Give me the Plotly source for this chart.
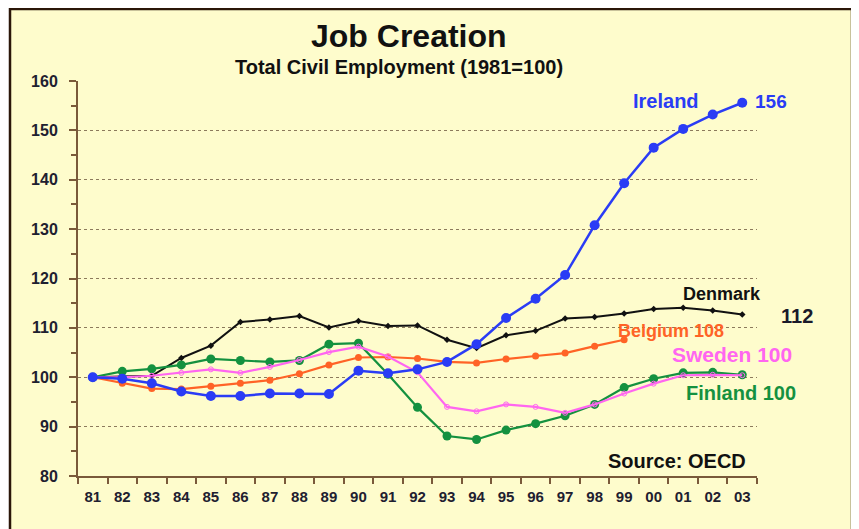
import plotly.graph_objects as go

years = ["81", "82", "83", "84", "85", "86", "87", "88", "89", "90", "91", "92",
         "93", "94", "95", "96", "97", "98", "99", "00", "01", "02", "03"]

ireland = [100, 99.7, 98.8, 97.1, 96.2, 96.2, 96.7, 96.7, 96.6, 101.3, 100.8, 101.6,
           103.1, 106.7, 112.0, 115.9, 120.7, 130.8, 139.3, 146.5, 150.3, 153.2, 155.6]
denmark = [100, 100.2, 100.3, 103.9, 106.4, 111.2, 111.7, 112.4, 110.1, 111.4, 110.4, 110.5,
           107.6, 105.9, 108.5, 109.4, 111.9, 112.2, 112.9, 113.8, 114.1, 113.5, 112.7]
belgium = [100, 98.8, 97.7, 97.6, 98.2, 98.8, 99.4, 100.7, 102.5, 104.0, 104.1, 103.8,
           103.1, 102.9, 103.7, 104.3, 104.9, 106.3, 107.6]
sweden = [100, 100.0, 100.3, 100.9, 101.6, 100.9, 102.1, 103.5, 105.1, 106.2, 104.2, 101.0,
          94.0, 93.1, 94.5, 94.0, 92.8, 94.5, 96.7, 98.7, 100.4, 100.5, 100.4]
finland = [100, 101.2, 101.7, 102.5, 103.7, 103.4, 103.1, 103.4, 106.7, 106.9, 100.6, 93.9,
           88.1, 87.4, 89.3, 90.6, 92.2, 94.5, 97.9, 99.7, 100.9, 101.0, 100.5]

BLUE = "#2a3cf5"
BLACK = "#111111"
ORANGE = "#ff6326"
MAGENTA = "#ff66f0"
GREEN = "#14913f"
BG = "#fefccc"
FONT = "Liberation Sans, Arial"

# plot area in page pixels (page has an 8px body margin)
PL, PR, PT, PB = 78, 757, 81, 476


def px(xp):
    return (xp - PL) / (PR - PL)


def py(yp):
    return (PB - yp) / (PB - PT)


fig = go.Figure()
fig.add_trace(go.Scatter(x=years, y=denmark, mode="lines+markers",
                         line=dict(color=BLACK, width=2),
                         marker=dict(symbol="diamond", size=5, color=BLACK)))
fig.add_trace(go.Scatter(x=years[:len(belgium)], y=belgium, mode="lines+markers",
                         line=dict(color=ORANGE, width=2.2),
                         marker=dict(symbol="circle", size=7, color=ORANGE)))
fig.add_trace(go.Scatter(x=years, y=finland, mode="lines+markers",
                         line=dict(color=GREEN, width=2.2),
                         marker=dict(symbol="circle", size=9, color=GREEN)))
fig.add_trace(go.Scatter(x=years, y=sweden, mode="lines+markers",
                         line=dict(color=MAGENTA, width=2.2),
                         marker=dict(symbol="circle-open", size=5, color=MAGENTA)))
fig.add_trace(go.Scatter(x=years, y=ireland, mode="lines+markers",
                         line=dict(color=BLUE, width=2.5),
                         marker=dict(symbol="circle", size=10, color=BLUE)))

labels = [
    ("Ireland", 666, 101, BLUE, 20, True),
    ("156", 771, 101, BLUE, 19, True),
    ("Denmark", 722, 294, BLACK, 18, True),
    ("112", 797, 316, "#1a1a2a", 20, True),
    ("Belgium 108", 671, 331, ORANGE, 18, True),
    ("Sweden 100", 732, 354, MAGENTA, 21, True),
    ("Finland 100", 741, 393, GREEN, 20, True),
    ("Source: OECD", 677, 461, BLACK, 20, True),
    ("Job Creation", 409, 36, BLACK, 32, True),
    ("Total Civil Employment (1981=100)", 399, 67, BLACK, 20, True),
]
for text, x, y, col, size, bold in labels:
    fig.add_annotation(x=px(x), y=py(y), xref="paper", yref="paper",
                       text=(f"<b>{text}</b>" if bold else text),
                       showarrow=False, xanchor="center", yanchor="middle",
                       font=dict(family=FONT, size=size, color=col))

# frame background
fig.add_shape(type="rect", xref="paper", yref="paper",
              x0=px(10), x1=px(852), y0=py(545), y1=py(9),
              fillcolor=BG, line=dict(color="#2b1608", width=2.5), layer="below")

AX = "#7a5a3a"
fig.update_layout(
    width=851, height=521,
    margin=dict(l=PL - 8, r=851 - (PR - 8), t=PT - 8, b=521 - (PB - 8)),
    paper_bgcolor="white",
    plot_bgcolor="rgba(0,0,0,0)",
    showlegend=False,
    font=dict(family=FONT, color="#222222"),
    xaxis=dict(type="category", range=[-0.5, 22.5], tickson="boundaries",
               ticks="outside", ticklen=6, tickcolor=AX, tickwidth=1.5,
               showline=True, linecolor=AX, linewidth=2, showgrid=False,
               tickfont=dict(size=15, family=FONT, color="#1e2030", weight="bold"),
               ticklabelstandoff=6, zeroline=False),
    yaxis=dict(range=[80, 160], dtick=10, ticks="outside", ticklen=7, tickcolor=AX, tickwidth=1.5,
               showline=True, linecolor=AX, linewidth=2,
               showgrid=True, gridcolor="#8c7a5c", griddash="dot", gridwidth=1,
               minor=dict(dtick=5, ticks="outside", ticklen=5, tickcolor=AX, showgrid=False),
               tickfont=dict(size=16, family=FONT, color="#1e2030", weight="bold"),
               ticklabelstandoff=8, zeroline=False),
)

fig.write_html("out.html")
